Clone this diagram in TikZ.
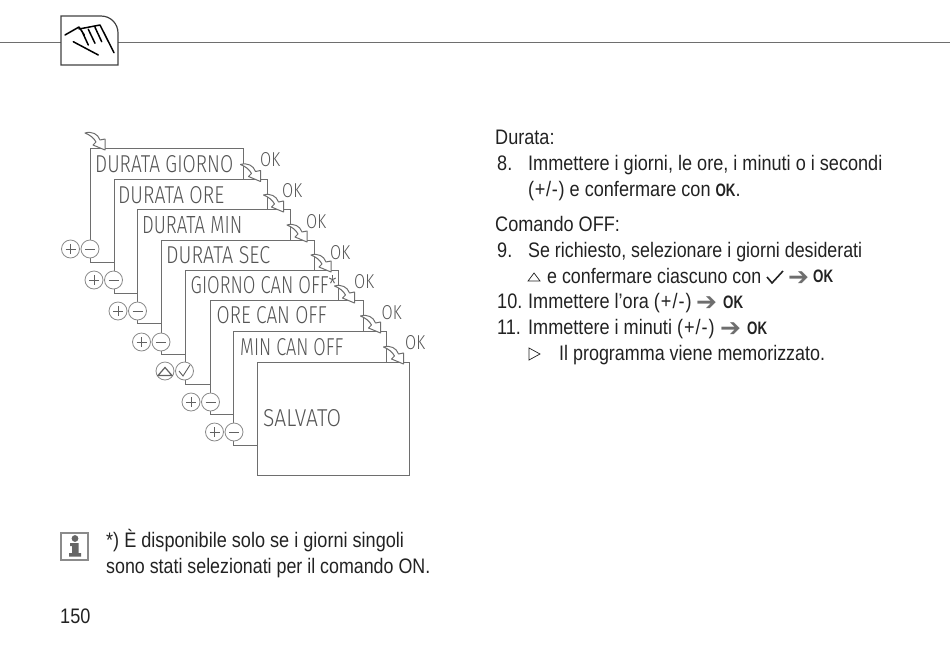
\documentclass[tikz,border=0pt]{standalone}
\usepackage{fontspec}
\usepackage{graphicx}
\setmainfont[FakeStretch=0.862]{Liberation Sans}
\newfontfamily\okfont[BoldFeatures={FakeStretch=0.74}]{Liberation Sans}
\newfontfamily\lcdfont{Fira Sans Light}
\newfontfamily\arrowfont{DejaVu Sans}
\definecolor{lineg}{HTML}{6E6E6E}
\definecolor{ink}{HTML}{222222}
\definecolor{lcdg}{HTML}{555555}
\tikzset{
  panel/.style={draw=lineg,line width=1.4pt,fill=white},
  lcd/.style={anchor=base west,inner sep=0pt,text=lcdg},
  body/.style={anchor=base west,inner sep=0pt,text=ink,font=\fontsize{21}{21}\selectfont},
  arw/.style={anchor=base west,inner sep=0pt,text=lineg,font=\arrowfont\fontsize{25}{25}\selectfont},
  btn/.style={circle,draw=lineg!80,line width=.8pt,fill=white,minimum size=18pt,inner sep=0pt},
  sym/.style={draw=black!62,line width=.9pt},
  harrow/.style={draw=lineg,line width=1pt,fill=white,line join=round},
}
\newcommand{\OKb}{{\okfont\bfseries\fontsize{18}{18}\selectfont OK}}
\newcommand{\lcdtext}[3]{\resizebox{#1pt}{#2pt}{\lcdfont #3}}
\newcommand{\flowarrow}[2]{%
  \path[harrow,shift={(#1,#2)}] (-20,-17) .. controls (-13,-19) and (-7,-16) .. (-5,-10)
    -- (0,-11) -- (0,0) -- (-12,-5) -- (-9,-8) .. controls (-11,-12) and (-15,-15) .. (-20,-17) -- cycle;}
\newcommand{\plusminus}[2]{%
  \node[btn] (p#1#2) at (#1-19.5,#2) {};
  \node[btn] (m#1#2) at (#1,#2) {};
  \draw[sym] (#1-24.5,#2) -- (#1-14.5,#2) (#1-19.5,#2-5) -- (#1-19.5,#2+5);
  \draw[sym] (#1-5,#2) -- (#1+5,#2);}
\begin{document}
\begin{tikzpicture}[x=1pt,y=-1pt]
\useasboundingbox (0,0) rectangle (950,646);
% header
\draw[lineg,line width=1pt] (0,42) -- (61,42) (118,42) -- (950,42);
\draw[black!75,line width=1.2pt] (61,16) -- (101,16) .. controls (111,16) and (118,24) .. (118,33) -- (118,65) -- (61,65) -- cycle;
\draw[black,line width=1.5pt,line cap=round,line join=round]
  (65,35) -- (79,27) -- (84.3,35)
  (81.7,30.7) -- (88.3,45) (88.3,29.3) -- (95,43.3) (95,27.3) -- (101.7,41.7)
  (79,29) -- (100,25) -- (114,52.7)
  (73.3,41.7) -- (98.3,55);
% panels
\foreach \x/\y/\n in {90/148/a,113.5/179/b,137/209/c,161/240/d,184.5/270/e,210/300/f,233/331/g}{
  \node[panel,minimum width=153pt,minimum height=114pt,anchor=north west,inner sep=0pt] (\n) at (\x,\y) {};
}
\node[panel,minimum width=152pt,minimum height=113pt,anchor=north west,inner sep=0pt] (h) at (257,362) {};
% LCD text
\node[lcd] at (95,172) {\lcdtext{138}{17}{DURATA GIORNO}};
\node[lcd] at (118,203) {\lcdtext{106}{17}{DURATA ORE}};
\node[lcd] at (142,233) {\lcdtext{100}{17}{DURATA MIN}};
\node[lcd] at (166,263) {\lcdtext{104}{17}{DURATA SEC}};
\node[lcd] at (190.5,293) {\lcdtext{146}{17}{GIORNO CAN OFF\smash{*}}};
\node[lcd] at (216.5,323) {\lcdtext{110}{17}{ORE CAN OFF}};
\node[lcd] at (240,355) {\lcdtext{103}{17}{MIN CAN OFF}};
\node[lcd] at (263,426) {\lcdtext{78}{17}{SALVATO}};
\foreach \x/\y in {260/166,282/197,306/228,330/259,354/288,381.5/319,405/349}{
  \node[lcd] at (\x,\y) {\lcdtext{20}{14}{OK}};
}
% flow arrows
\flowarrow{105}{150}
\flowarrow{260.5}{181.5}
\flowarrow{283.5}{212}
\flowarrow{307}{242}
\flowarrow{331}{272}
\flowarrow{354.5}{303}
\flowarrow{380.5}{333}
\flowarrow{403.5}{364}
% buttons
\plusminus{90}{249}
\plusminus{113.5}{280}
\plusminus{137.5}{311}
\plusminus{161}{342}
\node[btn] (tri) at (165,371) {};
\node[btn] (chk) at (184.5,371) {};
\draw[sym,line join=miter,line width=1.2pt] (158,375.5) -- (165,367.5) -- (172,375.5) -- cycle;
\draw[sym] (179,371) -- (183,376) -- (190,365);
\plusminus{210.5}{402}
\plusminus{234}{432}
% body text
\node[body] at (495,144) {Durata:};
\node[body] at (497,170) {8.};
\node[body] at (528,170) {Immettere i giorni, le ore, i minuti o i secondi};
\node[body] at (528,196) {(\kern.7pt+\kern.7pt/\kern.7pt-\kern.7pt) e confermare con \OKb.};
\node[body] at (495,231) {Comando OFF:};
\node[body] at (497,257) {9.};
\node[body,xscale=.985,transform shape] at (528,257) {Se richiesto, selezionare i giorni desiderati};
\draw[ink,line width=.7pt] (528,281) -- (534,273) -- (540,281) -- cycle;
\node[body,xscale=.985,transform shape] at (547,283) {e confermare ciascuno con};
\draw[ink,line width=1.6pt] (767,277) -- (772,283) -- (783,271);
\node[arw] at (788,285) {➔};
\node[body] at (813,282) {\OKb};
\node[body] at (497,308) {10.};
\node[body] at (528,308) {Immettere l’ora (\kern1pt+\kern1pt/\kern1pt-\kern1pt)};
\node[arw] at (696,310) {➔};
\node[body] at (723,308) {\OKb};
\node[body] at (497,334) {11.};
\node[body] at (528,334) {Immettere i minuti (\kern1pt+\kern1pt/\kern1pt-\kern1pt)};
\node[arw] at (720,336) {➔};
\node[body] at (747,334) {\OKb};
\draw[ink,line width=.7pt] (529,348) -- (540,354) -- (529,360) -- cycle;
\node[body,xscale=.99,transform shape] at (559,360) {Il programma viene memorizzato.};
% note
\draw[lineg!80,line width=1.2pt] (61,533) rectangle (88,560);
\fill[black!60] (75,538.5) circle (3.4);
\fill[black!60] (70,543) -- (78.5,543) -- (78.5,553) -- (81,553) -- (81,556.5) -- (69,556.5) -- (69,553) -- (72,553) -- (72,546) -- (70,546) -- cycle;
\node[body] at (106,547) {*) È disponibile solo se i giorni singoli};
\node[body,xscale=.985,transform shape] at (106,573) {sono stati selezionati per il comando ON.};
\node[body] at (60,623) {150};
\end{tikzpicture}
\end{document}
